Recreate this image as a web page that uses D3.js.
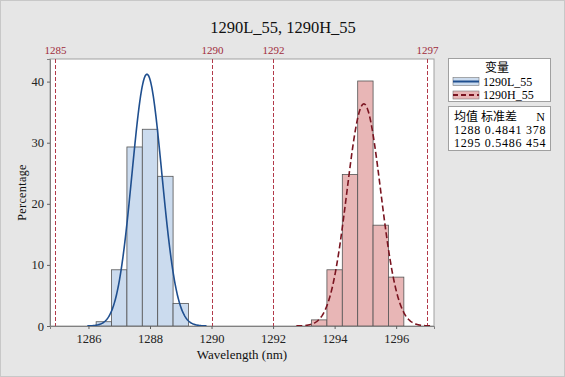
<!DOCTYPE html>
<html>
<head>
<meta charset="utf-8">
<script src="https://cdn.jsdelivr.net/npm/d3@7"></script>
<style>
  body { margin: 0; background: #e6e6e6; }
  text { font-family: "Liberation Serif", "Noto Sans CJK SC", serif; }
</style>
</head>
<body>
<script>
// series names and fitted parameters (from the legend)
const seriesNames = ["1290L_55", "1290H_55"]
const means = [1287.9, 1294.95]
const stdevs = [0.4841, 0.5486]
const counts = [378, 454]
const meanLabels = ["1288", "1295"]

// histogram bins: width 0.5, centres and percentages
const binWidth = 0.5
const lowCenters = [1286.5, 1287, 1287.5, 1288, 1288.5, 1289]
const lowPercent = [0.7, 9.2, 29.3, 32.2, 24.5, 3.7]
const highCenters = [1293.5, 1294, 1294.5, 1295, 1295.5, 1296]
const highPercent = [1.0, 9.2, 24.8, 40.1, 16.5, 8.0]

// reference lines
const refLines = [1284.9, 1290, 1292, 1297]
const refLabels = ["1285", "1290", "1292", "1297"]

const xTicks = [1286, 1288, 1290, 1292, 1294, 1296]
const yTicks = [0, 10, 20, 30, 40]

const width = 565, height = 377
const margin = {top: 59, right: 131, bottom: 51, left: 50}

const svg = d3.select('body').append('svg')
    .attr('width', width)
    .attr('height', height)

// background + frame
svg.append('rect')
    .attr('x', 0.5).attr('y', 0.5)
    .attr('width', width - 1).attr('height', height - 1)
    .attr('fill', '#e6e6e6')
    .attr('stroke', '#c8c8c8')

const xScale = d3.scaleLinear()
    .domain([1284.75, 1297.23])
    .range([margin.left, width - margin.right])

const yScale = d3.scaleLinear()
    .domain([0, 43.7])
    .range([height - margin.bottom, margin.top])

// plot area
svg.append('rect')
    .attr('x', margin.left)
    .attr('y', margin.top)
    .attr('width', width - margin.left - margin.right)
    .attr('height', height - margin.top - margin.bottom)
    .attr('fill', 'white')
    .attr('stroke', '#a0a0a0')

// bars
function drawBars(centers, values, fill) {
    svg.append('g').selectAll('rect')
        .data(centers)
        .enter()
        .append('rect')
            .attr('x', d => xScale(d - binWidth / 2))
            .attr('width', d => xScale(d + binWidth / 2) - xScale(d - binWidth / 2))
            .attr('y', (d, i) => yScale(values[i]))
            .attr('height', (d, i) => yScale(0) - yScale(values[i]))
            .attr('fill', fill)
            .attr('stroke', '#555')
            .attr('stroke-width', 0.8)
}
drawBars(lowCenters, lowPercent, '#cbdbee')
drawBars(highCenters, highPercent, '#e8b6b6')

// reference lines + labels (snapped to pixel grid so the dashes stay red)
const px = d => Math.round(xScale(d)) + 0.5
svg.append('g').selectAll('line')
    .data(refLines)
    .enter()
    .append('line')
        .attr('x1', px).attr('x2', px)
        .attr('y1', margin.top).attr('y2', height - margin.bottom)
        .attr('stroke', '#b23a4a')
        .attr('stroke-width', 1)
        .attr('stroke-dasharray', '4,2')

svg.append('g').selectAll('text')
    .data(refLines)
    .enter()
    .append('text')
        .attr('x', px)
        .attr('y', 54)
        .attr('text-anchor', 'middle')
        .style('font-size', '11px')
        .attr('fill', '#a02c3c')
        .text((d, i) => refLabels[i])

// fitted normal curves (percent per bin)
function fitCurve(mu, sd) {
    const pts = d3.range(mu - 4 * sd, mu + 4 * sd, sd / 40)
    return pts.map(x => [x, 100 * binWidth * Math.exp(-0.5 * ((x - mu) / sd) ** 2) / (sd * Math.sqrt(2 * Math.PI))])
}
const line = d3.line()
    .x(d => xScale(d[0]))
    .y(d => yScale(d[1]))

svg.append('path')
    .datum(fitCurve(means[0], stdevs[0]))
    .attr('fill', 'none')
    .attr('stroke', '#1f4f8f')
    .attr('stroke-width', 1.6)
    .attr('d', line)

svg.append('path')
    .datum(fitCurve(means[1], stdevs[1]))
    .attr('fill', 'none')
    .attr('stroke', '#7a1420')
    .attr('stroke-width', 1.6)
    .attr('stroke-dasharray', '6,3')
    .attr('d', line)

// axes
const xAxis = svg.append('g')
    .attr('transform', 'translate(0,' + (height - margin.bottom) + ')')
    .call(d3.axisBottom(xScale).tickValues(xTicks).tickSize(3).tickFormat(d3.format('d')))
xAxis.select('.domain').attr('stroke', '#808080')
xAxis.selectAll('line').attr('stroke', '#606060')
xAxis.selectAll('text').style('font-size', '12.5px').attr('fill', '#222').attr('dy', '0.9em')

const yAxis = svg.append('g')
    .attr('transform', 'translate(' + margin.left + ',0)')
    .call(d3.axisLeft(yScale).tickValues(yTicks).tickSize(3))
yAxis.select('.domain').attr('stroke', '#808080')
yAxis.selectAll('line').attr('stroke', '#606060')
yAxis.selectAll('text').style('font-size', '12.5px').attr('fill', '#222')

// title and axis labels
svg.append('text')
    .attr('x', 283).attr('y', 33)
    .attr('text-anchor', 'middle')
    .style('font-size', '16.5px')
    .attr('fill', '#111')
    .text('1290L_55, 1290H_55')

svg.append('text')
    .attr('x', (margin.left + width - margin.right) / 2)
    .attr('y', 359)
    .attr('text-anchor', 'middle')
    .style('font-size', '13px')
    .attr('fill', '#111')
    .text('Wavelength (nm)')

svg.append('text')
    .attr('transform', 'translate(26,' + ((margin.top + height - margin.bottom) / 2) + ') rotate(-90)')
    .attr('text-anchor', 'middle')
    .style('font-size', '12px')
    .style('letter-spacing', '0.4px')
    .attr('fill', '#111')
    .text('Percentage')

// legend
const lg = svg.append('g')
lg.append('rect')
    .attr('x', 448.5).attr('y', 58.5).attr('width', 102).attr('height', 43)
    .attr('fill', 'white').attr('stroke', '#a0a0a0')
lg.append('text')
    .attr('x', 497).attr('y', 72)
    .attr('text-anchor', 'middle')
    .style('font-size', '12px')
    .text('变量')

const symFill = ['#cbdbee', '#e8b6b6']
const symStroke = ['#1f4f8f', '#7a1420']
seriesNames.forEach((name, i) => {
    const y = 81.5 + i * 13.5
    lg.append('rect')
        .attr('x', 453).attr('y', y - 4).attr('width', 26).attr('height', 8)
        .attr('fill', symFill[i]).attr('stroke', '#777').attr('stroke-width', 0.6)
    lg.append('line')
        .attr('x1', 453).attr('x2', 479).attr('y1', y).attr('y2', y)
        .attr('stroke', symStroke[i]).attr('stroke-width', 2)
        .attr('stroke-dasharray', i === 1 ? '5,3' : null)
    lg.append('text')
        .attr('x', 483).attr('y', y + 4)
        .style('font-size', '12px')
        .text(name)
})

lg.append('rect')
    .attr('x', 448.5).attr('y', 106.5).attr('width', 102).attr('height', 44)
    .attr('fill', 'white').attr('stroke', '#a0a0a0')
lg.append('text').attr('x', 454).attr('y', 121).style('font-size', '12px').text('均值 标准差')
lg.append('text').attr('x', 545).attr('y', 121).attr('text-anchor', 'end').style('font-size', '12px').text('N')
seriesNames.forEach((name, i) => {
    const y = 134 + i * 12.5
    lg.append('text').attr('x', 454).attr('y', y)
        .style('font-size', '12px')
        .style('letter-spacing', '0.75px')
        .text(meanLabels[i] + ' ' + stdevs[i].toFixed(4) + ' ' + counts[i])
})
</script>
</body>
</html>
